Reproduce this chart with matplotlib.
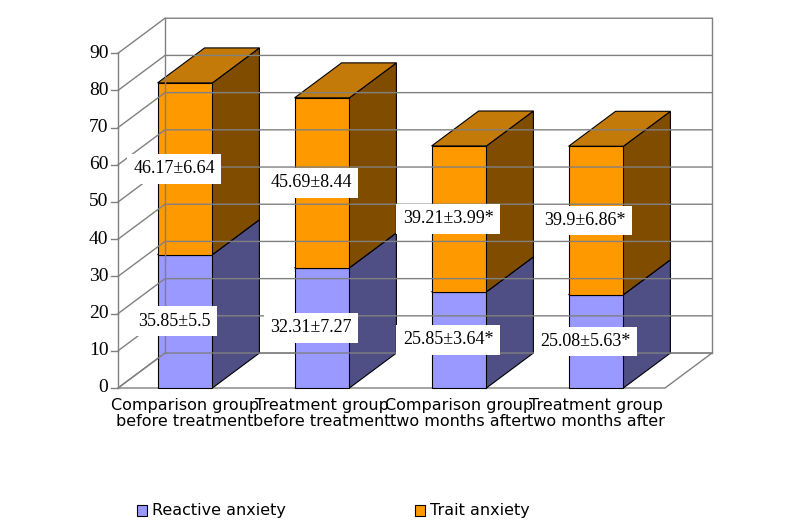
import matplotlib
matplotlib.use("Agg")
import matplotlib.pyplot as plt
from matplotlib.patches import Polygon, Rectangle

categories = ["Comparison group\nbefore treatment", "Treatment group\nbefore treatment",
              "Comparison group\ntwo months after", "Treatment group\ntwo months after"]
reactive = [35.85, 32.31, 25.85, 25.08]
trait = [46.17, 45.69, 39.21, 39.9]
reactive_labels = ["35.85±5.5", "32.31±7.27", "25.85±3.64*", "25.08±5.63*"]
trait_labels = ["46.17±6.64", "45.69±8.44", "39.21±3.99*", "39.9±6.86*"]
y_ticks = list(range(0, 100, 10))

DX, DY = 0.343, 9.4      # depth offset in data units
HALF = 0.2               # half bar width
LEFT, RIGHT = -0.489, 3.504
SERIF = "Liberation Serif"

fig = plt.figure(figsize=(7.87, 5.27), dpi=100)
ax = fig.add_axes([0, 0, 1, 1])
ax.set_xlim(-185 / 137, (787 - 185) / 137)
ax.set_ylim(-139 / 3.72, 388 / 3.72)
ax.axis("off")

line_kw = dict(color="#808080", lw=1.0)
# floor, left wall, back wall
ax.add_patch(Polygon([(LEFT, 0), (RIGHT, 0), (RIGHT + DX, DY), (LEFT + DX, DY)],
                     closed=True, fc="white", ec="#808080", lw=1.0))
ax.plot([LEFT, LEFT], [0, 90], **line_kw)
ax.plot([LEFT + DX, LEFT + DX], [DY, 90 + DY], **line_kw)
ax.plot([RIGHT + DX, RIGHT + DX], [DY, 90 + DY], **line_kw)
for t in y_ticks:
    ax.plot([LEFT, LEFT + DX, RIGHT + DX], [t, t + DY, t + DY], **line_kw)
    ax.plot([LEFT - 0.05, LEFT], [t, t], color="#808080", lw=1.0)
    ax.text(LEFT - 0.07, t, str(t), ha="right", va="center",
            fontsize=14, family=SERIF)

def box3d(xc, y0, y1, front, side, top):
    x0, x1 = xc - HALF, xc + HALF
    ax.add_patch(Polygon([(x1, y0), (x1 + DX, y0 + DY), (x1 + DX, y1 + DY), (x1, y1)],
                         fc=side, ec="black", lw=0.8))
    ax.add_patch(Polygon([(x0, y1), (x1, y1), (x1 + DX, y1 + DY), (x0 + DX, y1 + DY)],
                         fc=top, ec="black", lw=0.8))
    ax.add_patch(Rectangle((x0, y0), x1 - x0, y1 - y0, fc=front, ec="black", lw=0.8))

bbox = dict(boxstyle="square,pad=0.35", fc="white", ec="none")
for i, (r, t) in enumerate(zip(reactive, trait)):
    box3d(i, 0, r, "#9999FF", "#4F4F86", "#4F4F86")
    box3d(i, r, r + t, "#FF9900", "#804C00", "#C47A08")
    ax.text(i - 0.08, r * 0.5, reactive_labels[i], ha="center", va="center",
            fontsize=13, family=SERIF, bbox=bbox)
    ax.text(i - 0.08, r + t * 0.5, trait_labels[i], ha="center", va="center",
            fontsize=13, family=SERIF, bbox=bbox)
    ax.text(i, -2.8, categories[i], ha="center", va="top", fontsize=11.5,
            linespacing=1.05)

# legend
for x, col, name in [(0.05, "#9999FF", "Reactive anxiety"), (2.08, "#FF9900", "Trait anxiety")]:
    ax.add_patch(Rectangle((x - 0.4, -31.5), 0.07, -2.9, fc=col, ec="black", lw=0.8))
    ax.text(x - 0.29, -33.0, name, ha="left", va="center", fontsize=11.5)

fig.savefig("out.png", dpi=100)
